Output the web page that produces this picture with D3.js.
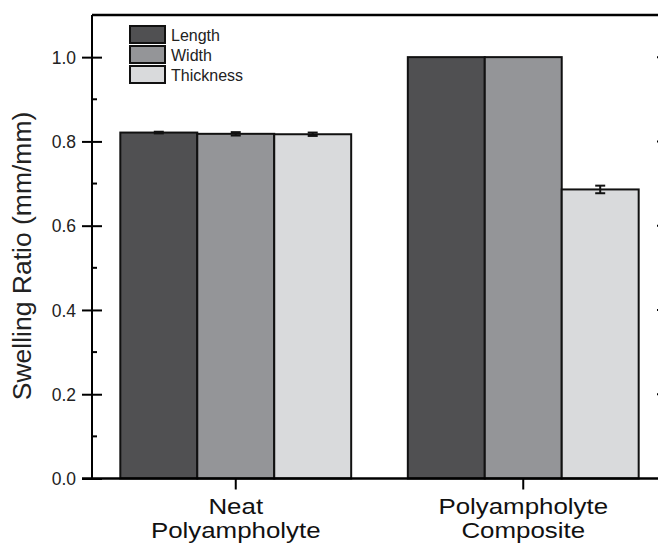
<!DOCTYPE html>
<html>
<head>
<meta charset="utf-8">
<script src="https://cdn.jsdelivr.net/npm/d3@7"></script>
<style>
  body { margin: 0; background: #fff; }
  svg { display: block; font-family: Arial, "Liberation Sans", sans-serif; }
</style>
</head>
<body>
<svg id="chart" width="658" height="544"></svg>
<script>
// Data
const groups = ["Neat\nPolyampholyte", "Polyampholyte\nComposite"];
const seriesNames = ["Length", "Width", "Thickness"];
const seriesColors = ["#505052", "#949598", "#d9dadc"];
const lengthValues = [0.821, 1.0];
const widthValues = [0.818, 1.0];
const thicknessValues = [0.817, 0.686];
const lengthErrors = [0.002, 0];
const widthErrors = [0.004, 0];
const thicknessErrors = [0.004, 0.009];
const yTicks = [0, 0.2, 0.4, 0.6, 0.8, 1.0];
const yMinorTicks = [0.1, 0.3, 0.5, 0.7, 0.9];

const seriesValues = [lengthValues, widthValues, thicknessValues];
const seriesErrors = [lengthErrors, widthErrors, thicknessErrors];

// Dimensions (plot runs past the right edge, as in the source image)
const margin = { top: 15, left: 92 };
const plotRight = 667;
const plotBottom = 478.5;

const svg = d3.select("#chart");

const x0 = d3.scaleBand()
  .domain(groups)
  .range([margin.left, plotRight])
  .paddingInner(0.197)
  .paddingOuter(0.0985);

const x1 = d3.scaleBand()
  .domain(seriesNames)
  .range([0, x0.bandwidth()]);

const y = d3.scaleLinear()
  .domain([0, 1.1])
  .range([plotBottom, margin.top]);

const color = d3.scaleOrdinal().domain(seriesNames).range(seriesColors);

// Flatten for drawing
const bars = [];
groups.forEach((g, gi) => {
  seriesNames.forEach((s, si) => {
    bars.push({ group: g, series: s, value: seriesValues[si][gi], err: seriesErrors[si][gi] });
  });
});

// Bars
svg.append("g").selectAll("rect")
  .data(bars)
  .enter()
  .append("rect")
  .attr("x", d => x0(d.group) + x1(d.series))
  .attr("y", d => y(d.value))
  .attr("width", x1.bandwidth())
  .attr("height", d => y(0) - y(d.value))
  .attr("fill", d => color(d.series))
  .attr("stroke", "#111")
  .attr("stroke-width", 2);

// Error bars
const errG = svg.append("g").attr("stroke", "#111").attr("stroke-width", 2);
bars.filter(d => d.err > 0).forEach(d => {
  const cx = x0(d.group) + x1(d.series) + x1.bandwidth() / 2;
  errG.append("line").attr("x1", cx).attr("x2", cx).attr("y1", y(d.value + d.err)).attr("y2", y(d.value - d.err));
  errG.append("line").attr("x1", cx - 5).attr("x2", cx + 5).attr("y1", y(d.value + d.err)).attr("y2", y(d.value + d.err));
  errG.append("line").attr("x1", cx - 5).attr("x2", cx + 5).attr("y1", y(d.value - d.err)).attr("y2", y(d.value - d.err));
});

// Frame: top spine
svg.append("line")
  .attr("x1", margin.left).attr("x2", plotRight)
  .attr("y1", y(1.1)).attr("y2", y(1.1))
  .attr("stroke", "#000").attr("stroke-width", 2.5);

// Left axis
const yAxis = svg.append("g")
  .attr("transform", `translate(${margin.left},0)`)
  .call(d3.axisLeft(y).tickValues(yTicks).tickFormat(d3.format(".1f")).tickSize(10).tickSizeOuter(0));
yAxis.select(".domain").attr("stroke-width", 2).attr("d", `M0,${y(0)}V${y(1.1)}`);
yAxis.selectAll(".tick line").attr("stroke-width", 2).attr("x1", 10);
yAxis.selectAll(".tick text").attr("font-size", 17.5).attr("fill", "#222").attr("x", -16).attr("dy", "0.36em");
yAxis.append("g").selectAll("line")
  .data(yMinorTicks)
  .enter()
  .append("line")
  .attr("x1", 0).attr("x2", 5)
  .attr("y1", d => y(d)).attr("y2", d => y(d))
  .attr("stroke", "#000").attr("stroke-width", 2);

// Right axis ticks (mostly outside the window)
const rAxis = svg.append("g").attr("transform", `translate(${plotRight},0)`);
rAxis.selectAll(".maj")
  .data(yTicks.filter(d => d > 0))
  .enter()
  .append("line")
  .attr("x1", 0).attr("x2", -10)
  .attr("y1", d => y(d)).attr("y2", d => y(d))
  .attr("stroke", "#000").attr("stroke-width", 2);

// Bottom axis
const xAxis = svg.append("g")
  .attr("transform", `translate(0,${plotBottom})`)
  .call(d3.axisBottom(x0).tickSize(11).tickSizeOuter(0).tickFormat(""));
xAxis.select(".domain").attr("stroke-width", 2.5).attr("d", `M${margin.left - 10},0H${plotRight}`);
xAxis.selectAll(".tick line").attr("stroke-width", 2);

// Category labels (two lines, slightly wide lettering like the source)
groups.forEach(g => {
  const cx = x0(g) + x0.bandwidth() / 2;
  const t = svg.append("text")
    .attr("transform", `translate(${cx},0) scale(1.15,1)`)
    .attr("x", 0)
    .attr("y", 514)
    .attr("text-anchor", "middle")
    .attr("font-size", 22.5)
    .attr("fill", "#111");
  g.split("\n").forEach((line, i) => {
    t.append("tspan").attr("x", 0).attr("dy", i === 0 ? 0 : 24).text(line);
  });
});

// Y-axis label
svg.append("text")
  .attr("transform", "rotate(-90)")
  .attr("x", -256)
  .attr("y", 31)
  .attr("text-anchor", "middle")
  .attr("font-size", 26.5)
  .attr("fill", "#222")
  .text("Swelling Ratio (mm/mm)");

// Legend
const legend = svg.append("g").attr("transform", "translate(130,26)");
seriesNames.forEach((s, i) => {
  const row = legend.append("g").attr("transform", `translate(0,${i * 20})`);
  row.append("rect")
    .attr("width", 35).attr("height", 17)
    .attr("fill", color(s))
    .attr("stroke", "#111").attr("stroke-width", 2);
  row.append("text")
    .attr("x", 41).attr("y", 14.5)
    .attr("font-size", 16)
    .attr("fill", "#222")
    .text(s);
});
</script>
</body>
</html>
